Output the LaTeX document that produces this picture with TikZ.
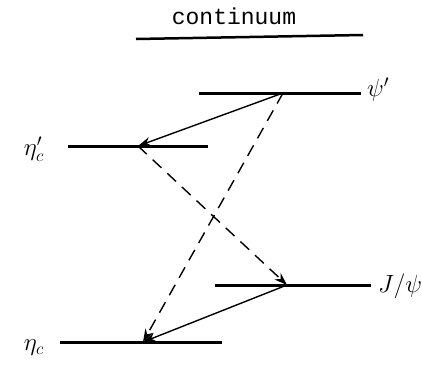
\documentclass[tikz,border=0pt]{standalone}
\usepackage{fontspec}
\newfontfamily\monofont{Liberation Mono}
\usetikzlibrary{arrows.meta}
\begin{document}
\begin{tikzpicture}[x=1pt,y=-1pt,
  level/.style={line width=3pt},
  trans/.style={line width=1.4pt,-{Stealth[length=13pt,width=9pt]}},
  dtrans/.style={trans,dash pattern=on 12pt off 8pt},
  lbl/.style={font=\fontsize{24}{24}\selectfont,inner sep=0pt}]
\useasboundingbox (0,0) rectangle (422,364);
\node[font=\monofont\fontsize{23}{23}\selectfont] (cont) at (234,16) {continuum};
\draw[line width=2.5pt] (136,39) coordinate (c1) -- (363,35) coordinate (c2);
% levels
\draw[level] (199,93) coordinate (p1) -- (361,93) coordinate (p2);
\draw[level] (68,146) coordinate (e1) -- (208,146) coordinate (e2);
\draw[level] (215,285) coordinate (j1) -- (371,285) coordinate (j2);
\draw[level] (60,342) coordinate (n1) -- (222,342) coordinate (n2);
\coordinate (psi) at (283,93);
\coordinate (etap) at (138,146);
\coordinate (jpsi) at (287,285);
\coordinate (eta) at (143,342);
\node[lbl,anchor=west] (lpsi) at (367,90) {$\psi'$};
\node[lbl,anchor=east] (leta') at (44,149) {$\eta'_c$};
\node[lbl,anchor=west] (lj) at (378,286) {$J/\psi$};
\node[lbl,anchor=east] (leta) at (44,348) {$\eta_c$};
% transitions
\draw[trans] (psi) -- (etap);
\draw[dtrans] (psi) -- (eta);
\draw[dtrans] (etap) -- (jpsi);
\draw[trans] (jpsi) -- (eta);
\end{tikzpicture}
\end{document}
